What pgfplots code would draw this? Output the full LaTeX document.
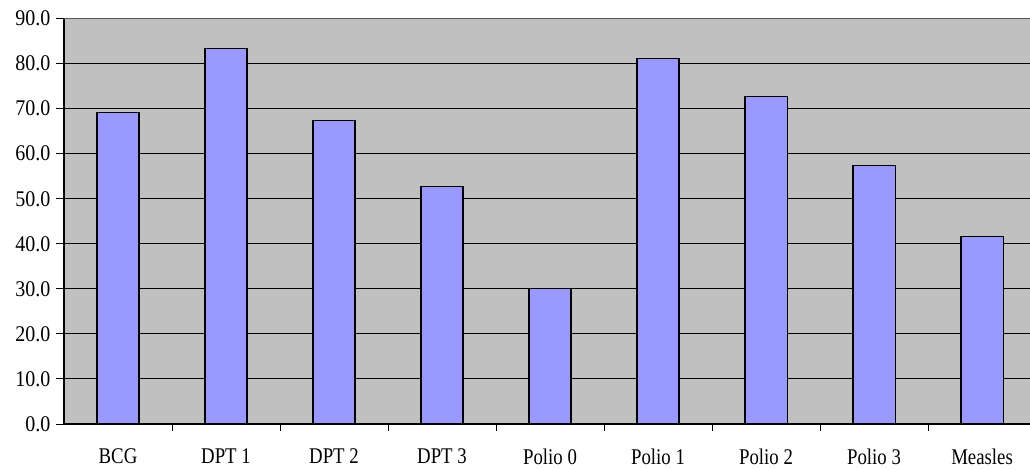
\documentclass[border=0pt]{standalone}
\usepackage{pgfplots}
\pgfplotsset{compat=1.18}
\usepackage{fontspec}
\setmainfont{Liberation Serif}
\usepackage{graphicx}
\definecolor{barblue}{HTML}{9999FF}
\definecolor{plotgrey}{HTML}{C0C0C0}
\newcommand{\lab}[1]{\scalebox{0.94}[1.12]{#1}}
\begin{document}
\begin{tikzpicture}
  \begin{axis}[
    scale only axis,
    width=966pt, height=405.5pt,
    xmin=-0.5, xmax=8.444,
    ymin=0, ymax=90,
    ytick distance=10,
    yticklabel={\scalebox{1}[1.12]{\pgfmathprintnumber[fixed,fixed zerofill,precision=1]{\tick}}},
    /pgf/number format/assume math mode=true,
    xtick={0,...,8},
    xticklabels={\lab{BCG},\lab{DPT 1},\lab{DPT 2},\lab{DPT 3},\lab{Polio 0},\lab{Polio 1},\lab{Polio 2},\lab{Polio 3},\lab{Measles}},
    minor xtick={0.5,1.5,...,7.5},
    major x tick style={draw=none},
    tick align=outside,
    major tick length=8pt,
    minor tick length=7pt,
    tick style={black, line width=1pt},
    axis x line*=bottom,
    axis y line*=left,
    axis line style={black, line width=1.2pt, -},
    ymajorgrids,
    major grid style={black, line width=1pt},
    axis background/.style={fill=plotgrey},
    ticklabel style={font=\fontsize{20}{22}\selectfont},
    yticklabel style={xshift=-2pt},
    xticklabel style={yshift=-13pt},
    ybar,
    bar width=0.39,
    clip=false,
  ]
    \addplot[fill=barblue, draw=black, line width=1.2pt] coordinates {
      (0,69.1) (1,83.4) (2,67.3) (3,52.7) (4,30.1)
      (5,81.1) (6,72.7) (7,57.3) (8,41.7)
    };
    \draw[gray!70!black, line width=1.2pt] (rel axis cs:0,1) -- (rel axis cs:1,1);
    \coordinate (O) at (rel axis cs:0,0);
  \end{axis}
  \pgfresetboundingbox
  \path[use as bounding box] (O) ++(-64pt,-45pt) rectangle ++(1030pt,469pt);
\end{tikzpicture}
\end{document}
